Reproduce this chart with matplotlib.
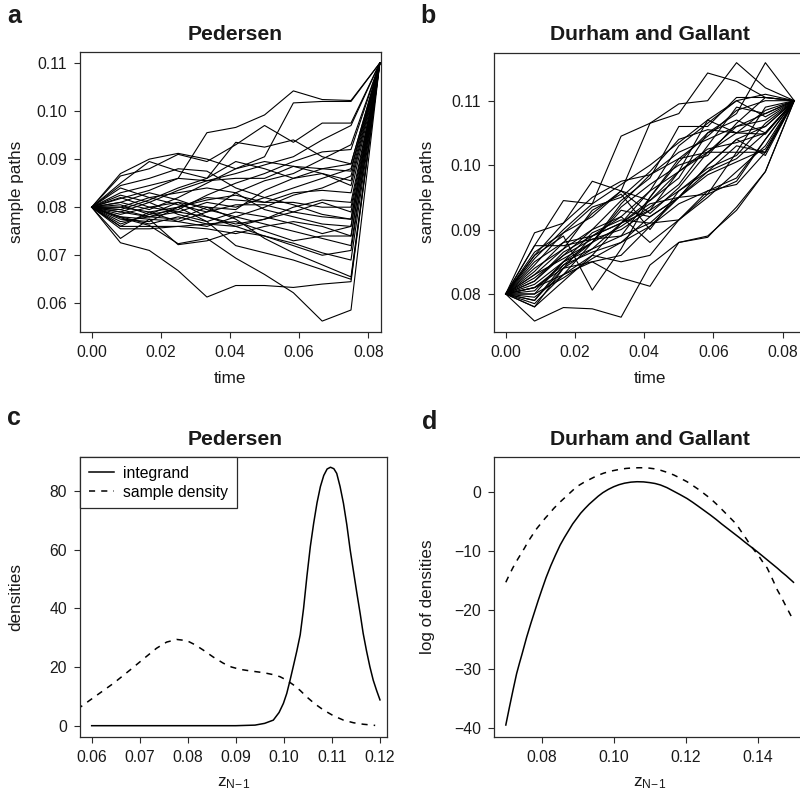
"""Sample paths and importance densities: Pedersen vs Durham and Gallant."""

import matplotlib

matplotlib.use("Agg")
import matplotlib.pyplot as plt

plt.rcParams["font.family"] = ["Liberation Sans", "DejaVu Sans"]
plt.rcParams["mathtext.fontset"] = "custom"
plt.rcParams["mathtext.rm"] = "Liberation Sans"

# ---- data ----
TIME = [0.0, 0.00833, 0.01667, 0.025, 0.03333, 0.04167, 0.05, 0.05833, 0.06667, 0.075, 0.08333]

PEDERSEN_PATHS = [
    [0.080, 0.0818, 0.0835, 0.0860, 0.0955, 0.0966, 0.0992, 0.1042, 0.1024, 0.1022, 0.110],
    [0.080, 0.0778, 0.0762, 0.0724, 0.0735, 0.0694, 0.0660, 0.0622, 0.0563, 0.0586, 0.110],
    [0.080, 0.0726, 0.0710, 0.0668, 0.0613, 0.0637, 0.0637, 0.0633, 0.0640, 0.0645, 0.110],
    [0.080, 0.0870, 0.0900, 0.0912, 0.0900, 0.0880, 0.0895, 0.0885, 0.0870, 0.0855, 0.110],
    [0.080, 0.0865, 0.0880, 0.0910, 0.0895, 0.0930, 0.0970, 0.0935, 0.0975, 0.0975, 0.110],
    [0.080, 0.0850, 0.0895, 0.0875, 0.0860, 0.0935, 0.0925, 0.0940, 0.0905, 0.0890, 0.110],
    [0.080, 0.0810, 0.0795, 0.0820, 0.0850, 0.0880, 0.0905, 0.1017, 0.1020, 0.1020, 0.110],
    [0.080, 0.0790, 0.0810, 0.0835, 0.0855, 0.0870, 0.0888, 0.0905, 0.0940, 0.0970, 0.110],
    [0.080, 0.0800, 0.0820, 0.0805, 0.0790, 0.0830, 0.0855, 0.0870, 0.0900, 0.0930, 0.110],
    [0.080, 0.0830, 0.0845, 0.0860, 0.0855, 0.0860, 0.0860, 0.0885, 0.0880, 0.0875, 0.110],
    [0.080, 0.0795, 0.0780, 0.0790, 0.0810, 0.0800, 0.0820, 0.0840, 0.0860, 0.0880, 0.110],
    [0.080, 0.0775, 0.0770, 0.0800, 0.0815, 0.0825, 0.0810, 0.0810, 0.0800, 0.0800, 0.110],
    [0.080, 0.0780, 0.0775, 0.0770, 0.0790, 0.0805, 0.0805, 0.0790, 0.0780, 0.0775, 0.110],
    [0.080, 0.0760, 0.0760, 0.0760, 0.0765, 0.0760, 0.0775, 0.0790, 0.0810, 0.0790, 0.110],
    [0.080, 0.0755, 0.0755, 0.0760, 0.0755, 0.0745, 0.0760, 0.0770, 0.0760, 0.0740, 0.110],
    [0.080, 0.0735, 0.0775, 0.0722, 0.0730, 0.0750, 0.0740, 0.0725, 0.0705, 0.0690, 0.110],
    [0.080, 0.0760, 0.0790, 0.0800, 0.0770, 0.0720, 0.0705, 0.0690, 0.0670, 0.0650, 0.110],
    [0.080, 0.0820, 0.0800, 0.0810, 0.0800, 0.0775, 0.0735, 0.0705, 0.0680, 0.0655, 0.110],
    [0.080, 0.0810, 0.0830, 0.0815, 0.0795, 0.0780, 0.0765, 0.0750, 0.0735, 0.0720, 0.110],
    [0.080, 0.0785, 0.0800, 0.0790, 0.0780, 0.0765, 0.0775, 0.0800, 0.0815, 0.0810, 0.110],
    [0.080, 0.0790, 0.0780, 0.0800, 0.0820, 0.0815, 0.0810, 0.0830, 0.0835, 0.0830, 0.110],
    [0.080, 0.0825, 0.0810, 0.0785, 0.0770, 0.0790, 0.0780, 0.0765, 0.0745, 0.0760, 0.110],
    [0.080, 0.0800, 0.0790, 0.0770, 0.0760, 0.0780, 0.0800, 0.0825, 0.0840, 0.0865, 0.110],
    [0.080, 0.0845, 0.0860, 0.0880, 0.0875, 0.0840, 0.0820, 0.0805, 0.0785, 0.0775, 0.110],
    [0.080, 0.0770, 0.0780, 0.0775, 0.0800, 0.0795, 0.0835, 0.0860, 0.0870, 0.0845, 0.110],
    [0.080, 0.0805, 0.0785, 0.0795, 0.0825, 0.0850, 0.0870, 0.0895, 0.0915, 0.0920, 0.110],
    [0.080, 0.0765, 0.0785, 0.0810, 0.0780, 0.0760, 0.0740, 0.0720, 0.0700, 0.0710, 0.110],
    [0.080, 0.0840, 0.0820, 0.0830, 0.0840, 0.0830, 0.0795, 0.0780, 0.0765, 0.0760, 0.110],
    [0.080, 0.0795, 0.0815, 0.0840, 0.0860, 0.0895, 0.0880, 0.0860, 0.0880, 0.0890, 0.110],
    [0.080, 0.0780, 0.0765, 0.0780, 0.0765, 0.0770, 0.0750, 0.0730, 0.0740, 0.0740, 0.110],
]

DURHAM_PATHS = [
    [0.080, 0.0758, 0.0779, 0.0777, 0.0764, 0.0845, 0.0880, 0.0888, 0.0935, 0.0990, 0.110],
    [0.080, 0.0895, 0.0910, 0.0975, 0.0960, 0.1065, 0.1080, 0.1143, 0.1130, 0.1105, 0.110],
    [0.080, 0.0875, 0.0945, 0.0940, 0.1045, 0.1065, 0.1095, 0.1100, 0.1159, 0.1120, 0.110],
    [0.080, 0.0860, 0.0890, 0.0806, 0.0870, 0.0950, 0.1005, 0.1050, 0.1080, 0.1159, 0.110],
    [0.080, 0.0790, 0.0840, 0.0850, 0.0825, 0.0812, 0.0880, 0.0890, 0.0930, 0.0990, 0.110],
    [0.080, 0.0810, 0.0830, 0.0880, 0.0930, 0.0920, 0.0950, 0.1000, 0.1040, 0.1060, 0.110],
    [0.080, 0.0830, 0.0870, 0.0900, 0.0920, 0.0960, 0.0990, 0.1020, 0.1060, 0.1080, 0.110],
    [0.080, 0.0850, 0.0880, 0.0890, 0.0910, 0.0945, 0.0980, 0.1050, 0.1070, 0.1050, 0.110],
    [0.080, 0.0805, 0.0850, 0.0870, 0.0890, 0.0910, 0.0915, 0.0960, 0.0970, 0.1020, 0.110],
    [0.080, 0.0820, 0.0860, 0.0885, 0.0890, 0.0950, 0.1010, 0.1020, 0.1020, 0.1020, 0.110],
    [0.080, 0.0800, 0.0825, 0.0855, 0.0880, 0.0905, 0.0940, 0.0960, 0.0980, 0.1040, 0.110],
    [0.080, 0.0840, 0.0870, 0.0930, 0.0955, 0.0900, 0.0960, 0.0990, 0.1010, 0.1050, 0.110],
    [0.080, 0.0815, 0.0850, 0.0880, 0.0940, 0.0985, 0.1020, 0.1040, 0.1060, 0.1070, 0.110],
    [0.080, 0.0780, 0.0840, 0.0890, 0.0920, 0.0880, 0.0915, 0.0950, 0.0990, 0.1030, 0.110],
    [0.080, 0.0875, 0.0875, 0.0885, 0.0900, 0.0930, 0.0960, 0.0995, 0.1015, 0.1065, 0.110],
    [0.080, 0.0795, 0.0830, 0.0860, 0.0910, 0.0960, 0.1030, 0.1065, 0.1100, 0.1075, 0.110],
    [0.080, 0.0860, 0.0910, 0.0950, 0.0975, 0.0985, 0.1010, 0.1045, 0.1085, 0.1100, 0.110],
    [0.080, 0.0825, 0.0860, 0.0900, 0.0945, 0.0980, 0.1060, 0.1060, 0.1105, 0.1105, 0.110],
    [0.080, 0.0810, 0.0845, 0.0865, 0.0880, 0.0920, 0.0950, 0.0985, 0.1005, 0.1025, 0.110],
    [0.080, 0.0780, 0.0820, 0.0860, 0.0850, 0.0860, 0.0915, 0.0955, 0.0975, 0.1040, 0.110],
    [0.080, 0.0845, 0.0895, 0.0920, 0.0960, 0.0945, 0.0990, 0.1070, 0.1050, 0.1060, 0.110],
    [0.080, 0.0835, 0.0880, 0.0925, 0.0960, 0.0925, 0.0965, 0.1020, 0.1050, 0.1085, 0.110],
    [0.080, 0.0820, 0.0865, 0.0890, 0.0910, 0.0940, 0.0950, 0.0955, 0.1020, 0.1090, 0.110],
    [0.080, 0.0785, 0.0830, 0.0850, 0.0860, 0.0905, 0.0950, 0.1000, 0.1040, 0.1015, 0.110],
    [0.080, 0.0855, 0.0900, 0.0940, 0.0970, 0.1000, 0.1035, 0.1070, 0.1100, 0.1110, 0.110],
    [0.080, 0.0800, 0.0850, 0.0895, 0.0915, 0.0910, 0.0950, 0.0990, 0.1030, 0.1020, 0.110],
    [0.080, 0.0830, 0.0855, 0.0880, 0.0905, 0.0935, 0.0970, 0.1030, 0.1090, 0.1080, 0.110],
    [0.080, 0.0810, 0.0840, 0.0870, 0.0910, 0.0930, 0.0990, 0.1025, 0.1035, 0.1050, 0.110],
    [0.080, 0.0790, 0.0845, 0.0880, 0.0935, 0.0970, 0.1000, 0.1015, 0.1065, 0.1105, 0.110],
    [0.080, 0.0865, 0.0895, 0.0935, 0.0950, 0.0990, 0.1040, 0.1055, 0.1050, 0.1048, 0.110],
]

# panel c: densities on z_{N-1}
PED_INTEGRAND_Z = [0.060, 0.090, 0.094, 0.096, 0.0978, 0.099, 0.0999, 0.1006, 0.1013, 0.1020,
                   0.1027, 0.1034, 0.1041, 0.1048, 0.1055, 0.1062, 0.1069, 0.1076, 0.1083,
                   0.1090, 0.1097, 0.1104, 0.1110, 0.1117, 0.1124, 0.1131, 0.1138, 0.1145,
                   0.1152, 0.1159, 0.1165, 0.1172, 0.1179, 0.1186, 0.1193, 0.1200]
PED_INTEGRAND = [0.0, 0.0, 0.2, 0.8, 1.9, 4.5, 7.6, 11.0, 15.6, 20.5,
                 25.5, 31.0, 40.0, 51.0, 61.0, 69.0, 76.0, 81.5, 85.3,
                 87.5, 88.1, 87.6, 86.0, 81.5, 75.8, 68.5, 59.9, 52.5,
                 45.1, 38.0, 31.5, 25.5, 20.1, 15.5, 12.0, 8.8]
PED_SAMPLE_Z = [0.0570, 0.0576, 0.0610, 0.0645, 0.0680, 0.0714, 0.0735, 0.0756, 0.0777,
                0.0798, 0.0815, 0.0832, 0.0853, 0.0874, 0.0891, 0.0909, 0.0933, 0.0957,
                0.0975, 0.0992, 0.1006, 0.1020, 0.1034, 0.1047, 0.1064, 0.1082, 0.1103,
                0.1124, 0.1145, 0.1165, 0.1190]
PED_SAMPLE = [5.6, 6.3, 10.3, 14.4, 19.0, 23.6, 26.4, 28.5, 29.4,
              29.0, 27.6, 25.8, 23.4, 21.3, 20.0, 19.2, 18.6, 18.1,
              17.5, 16.7, 15.5, 13.9, 12.0, 9.9, 7.5, 5.4, 3.4,
              1.9, 1.0, 0.5, 0.1]

# panel d: log densities
DG_INTEGRAND_Z = [0.0700, 0.0705, 0.0710, 0.0720, 0.0730, 0.0738, 0.0745, 0.0758, 0.0770,
                  0.0780, 0.0790, 0.0800, 0.0812, 0.0825, 0.0838, 0.0851, 0.0863, 0.0875,
                  0.0886, 0.0897, 0.0908, 0.0920, 0.0932, 0.0944, 0.0957, 0.0970, 0.0985,
                  0.1000, 0.1015, 0.1030, 0.1048, 0.1065, 0.1083, 0.1100, 0.1115, 0.1130,
                  0.1148, 0.1165, 0.1185, 0.1204, 0.1220, 0.1235, 0.1252, 0.1269, 0.1285,
                  0.1300, 0.1317, 0.1334, 0.1350, 0.1365, 0.1382, 0.1399, 0.1412, 0.1425,
                  0.1440, 0.1455, 0.1468, 0.1480, 0.1490, 0.1500]
DG_INTEGRAND = [-39.5, -38.0, -36.5, -33.6, -30.8, -29.0, -27.5, -24.6, -22.2,
                -20.3, -18.4, -16.6, -14.5, -12.5, -10.7, -9.0, -7.7, -6.5,
                -5.4, -4.5, -3.6, -2.8, -2.05, -1.4, -0.7, -0.1, 0.45,
                0.9, 1.25, 1.5, 1.68, 1.75, 1.72, 1.6, 1.45, 1.2,
                0.75, 0.2, -0.45, -1.1, -1.75, -2.4, -3.15, -3.9, -4.65,
                -5.4, -6.2, -7.0, -7.75, -8.5, -9.3, -10.1, -10.75, -11.4,
                -12.15, -12.9, -13.6, -14.2, -14.75, -15.3]
DG_SAMPLE_Z = [0.0700, 0.0710, 0.0720, 0.0730, 0.0740, 0.0752, 0.0763, 0.0775, 0.0786,
               0.0798, 0.0810, 0.0822, 0.0833, 0.0849, 0.0865, 0.0881, 0.0897, 0.0916,
               0.0935, 0.0953, 0.0972, 0.0992, 0.1013, 0.1034, 0.1055, 0.1074, 0.1093,
               0.1112, 0.1130, 0.1148, 0.1167, 0.1185, 0.1204, 0.1220, 0.1237, 0.1253,
               0.1269, 0.1285, 0.1300, 0.1317, 0.1334, 0.1346, 0.1357, 0.1369, 0.1380,
               0.1392, 0.1404, 0.1415, 0.1427, 0.1441, 0.1455, 0.1466, 0.1476, 0.1488,
               0.1500]
DG_SAMPLE = [-15.3, -14.0, -12.8, -11.7, -10.7, -9.5, -8.3, -7.2, -6.2,
             -5.3, -4.4, -3.6, -2.8, -1.8, -0.9, 0.0, 0.9, 1.6,
             2.2, 2.75, 3.2, 3.55, 3.8, 4.0, 4.1, 4.12, 4.1,
             3.95, 3.7, 3.35, 2.9, 2.35, 1.75, 1.1, 0.4, -0.35,
             -1.1, -2.0, -2.9, -3.95, -5.0, -5.9, -6.9, -7.95, -9.0,
             -9.95, -10.9, -11.9, -12.9, -14.7, -16.6, -17.8, -19.0, -20.4,
             -21.8]

TIME_TICKS = [0.0, 0.02, 0.04, 0.06, 0.08]
TIME_TICK_LABELS = ["0.00", "0.02", "0.04", "0.06", "0.08"]
PED_PATH_TICKS = [0.06, 0.07, 0.08, 0.09, 0.10, 0.11]
PED_PATH_LABELS = ["0.06", "0.07", "0.08", "0.09", "0.10", "0.11"]
DG_PATH_TICKS = [0.08, 0.09, 0.10, 0.11]
DG_PATH_LABELS = ["0.08", "0.09", "0.10", "0.11"]
C_XTICKS = [0.06, 0.07, 0.08, 0.09, 0.10, 0.11, 0.12]
C_XLABELS = ["0.06", "0.07", "0.08", "0.09", "0.10", "0.11", "0.12"]
C_YTICKS = [0, 20, 40, 60, 80]
D_XTICKS = [0.08, 0.10, 0.12, 0.14]
D_XLABELS = ["0.08", "0.10", "0.12", "0.14"]
D_YTICKS = [-40, -30, -20, -10, 0]
D_YLABELS = ["\u221240", "\u221230", "\u221220", "\u221210", "0"]

W, H = 800, 797
TICK_SIZE = 11.3
LABEL_SIZE = 12.3
TITLE_SIZE = 15.2
INK = "#1a1a1a"
ZLABEL = r"$\mathregular{z_{N\!-\!1}}$"

fig = plt.figure(figsize=(W / 100, H / 100), dpi=100, facecolor="white")


def add_axes_px(left, top, right, bottom):
    return fig.add_axes([left / W, 1 - bottom / H, (right - left) / W, (bottom - top) / H])


def style_axes(ax):
    for spine in ax.spines.values():
        spine.set_color("#2a2a2a")
        spine.set_linewidth(0.9)
    ax.tick_params(direction="out", length=4.3, width=0.8, color="#2a2a2a",
                   labelsize=TICK_SIZE, labelcolor=INK)
    ax.tick_params(axis="x", pad=5.5)
    ax.tick_params(axis="y", pad=5)


def set_labels(ax, xlabel, ylabel, xy, yx):
    ax.set_xlabel(xlabel, fontsize=LABEL_SIZE, color=INK)
    ax.xaxis.label.set_verticalalignment("baseline")
    ax.xaxis.set_label_coords(0.5, xy)
    ax.set_ylabel(ylabel, fontsize=LABEL_SIZE, color=INK)
    ax.yaxis.label.set_verticalalignment("center")
    ax.yaxis.set_label_coords(yx, 0.5)


def title_px(text, x, y):
    fig.text(x / W, 1 - y / H, text, ha="center", va="baseline",
             fontsize=TITLE_SIZE, fontweight="bold", color=INK)


def letter_px(text, x, y):
    fig.text(x / W, 1 - y / H, text, ha="left", va="baseline",
             fontsize=18, fontweight="bold", color=INK)


# ---- a: Pedersen sample paths ----
ax_a = add_axes_px(80, 52.3, 380.7, 331.7)
for path in PEDERSEN_PATHS:
    ax_a.plot(TIME, path, color="black", linewidth=0.8)
ax_a.set_xlim(-0.00338, 0.08359)
ax_a.set_ylim(0.05409, 0.11223)
ax_a.set_xticks(TIME_TICKS, TIME_TICK_LABELS)
ax_a.set_yticks(PED_PATH_TICKS, PED_PATH_LABELS)
style_axes(ax_a)
set_labels(ax_a, "time", "sample paths", -0.1847, -0.2105)

# ---- b: Durham and Gallant sample paths ----
ax_b = add_axes_px(494.2, 52.7, 805.8, 331.7)
for path in DURHAM_PATHS:
    ax_b.plot(TIME, path, color="black", linewidth=0.8)
ax_b.set_xlim(-0.00332, 0.08667)
ax_b.set_ylim(0.07415, 0.11745)
ax_b.set_xticks(TIME_TICKS, TIME_TICK_LABELS)
ax_b.set_yticks(DG_PATH_TICKS, DG_PATH_LABELS)
style_axes(ax_b)
set_labels(ax_b, "time", "sample paths", -0.1847, -0.2125)

# ---- c: Pedersen densities ----
ax_c = add_axes_px(80, 457.3, 386.7, 736.7)
ax_c.plot(PED_INTEGRAND_Z, PED_INTEGRAND, color="black", linewidth=1.1, label="integrand")
ax_c.plot(PED_SAMPLE_Z, PED_SAMPLE, color="black", linewidth=1.1, dashes=(4, 4),
          label="sample density")
ax_c.set_xlim(0.05757, 0.1214)
ax_c.set_ylim(-3.75, 91.49)
ax_c.set_xticks(C_XTICKS, C_XLABELS)
ax_c.set_yticks(C_YTICKS)
style_axes(ax_c)
set_labels(ax_c, ZLABEL, "densities", -0.179, -0.2087)
leg = ax_c.legend(loc="upper left", bbox_to_anchor=(0, 1), borderaxespad=0,
                  fontsize=TICK_SIZE, frameon=True, fancybox=False, framealpha=1,
                  edgecolor="#2a2a2a", handlelength=1.6, handletextpad=0.6,
                  borderpad=0.55, labelspacing=0.25)
leg.get_frame().set_linewidth(0.9)

# ---- d: Durham and Gallant log densities ----
ax_d = add_axes_px(494.3, 457.3, 805.0, 736.7)
ax_d.plot(DG_INTEGRAND_Z, DG_INTEGRAND, color="black", linewidth=1.1)
ax_d.plot(DG_SAMPLE_Z, DG_SAMPLE, color="black", linewidth=1.1, dashes=(4, 4))
ax_d.set_xlim(0.0668, 0.1532)
ax_d.set_ylim(-41.48, 5.89)
ax_d.set_xticks(D_XTICKS, D_XLABELS)
ax_d.set_yticks(D_YTICKS, D_YLABELS)
style_axes(ax_d)
set_labels(ax_d, ZLABEL, "log of densities", -0.179, -0.2134)

title_px("Pedersen", 235, 40)
title_px("Durham and Gallant", 650, 40)
title_px("Pedersen", 235, 445)
title_px("Durham and Gallant", 650, 445)
letter_px("a", 7, 23)
letter_px("b", 420, 23)
letter_px("c", 7, 425)
letter_px("d", 422, 429)

fig.savefig("out.png", dpi=100)
